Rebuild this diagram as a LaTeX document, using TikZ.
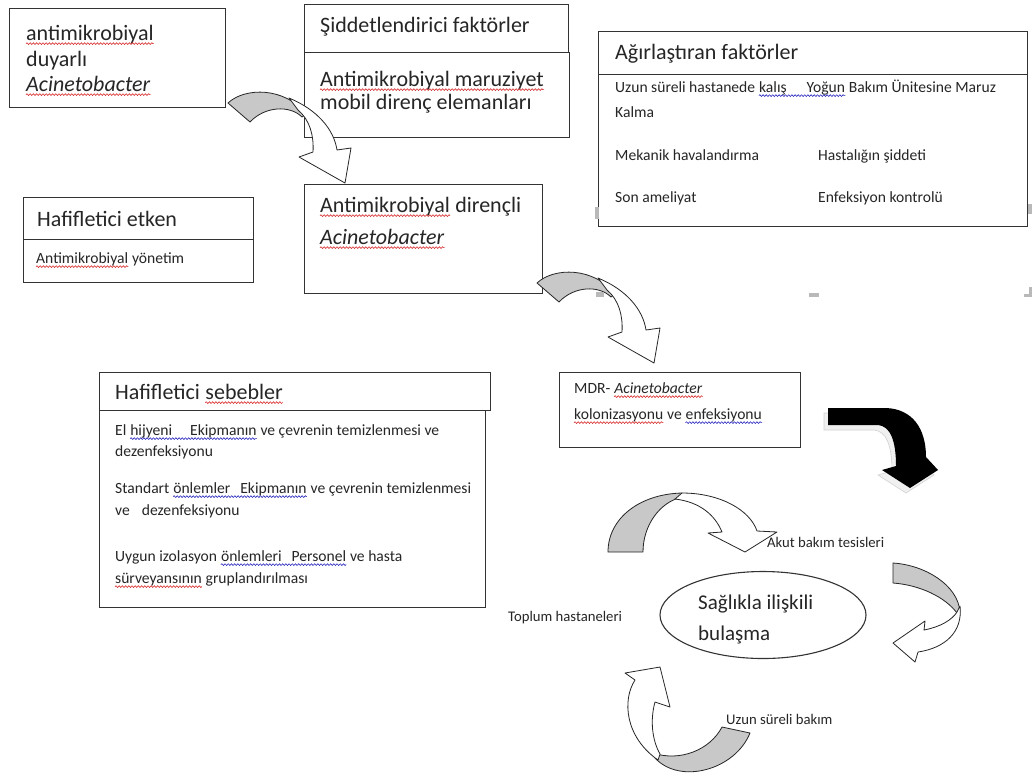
\documentclass[tikz,border=0pt]{standalone}
\usepackage{fontspec}
\setmainfont{Carlito}
\usetikzlibrary{decorations.pathmorphing,shapes.geometric}
\definecolor{arrgray}{RGB}{200,200,200}
\definecolor{wred}{RGB}{215,40,40}
\definecolor{wblue}{RGB}{40,40,190}
\tikzset{
  carrow/.pic={
    \path[garrow] (228,103) .. controls (245,87) and (285,87) .. (306,114) -- (302,117) .. controls (290,105) and (265,106) .. (250,122) -- cycle;
    \path[warrow] (289,98) .. controls (318,110) and (334,130) .. (337,150) -- (351,148) -- (345,183) -- (299,157) -- (313,152) .. controls (314,136) and (310,120) .. (298,110) -- cycle;
  }
}
\newcommand\wavy[2]{\draw[wv,#1] ([yshift=-3.6pt]#2.base west) -- ([yshift=-3.6pt]#2.base east);}
\begin{document}
\begin{tikzpicture}[x=1pt,y=-1pt,
  box/.style={draw=black!80,line width=1.1pt,anchor=north west,inner sep=0pt},
  big/.style={anchor=base west,inner sep=0pt,font=\fontsize{22}{26}\selectfont,text=black!85},
  small/.style={anchor=base west,inner sep=0pt,font=\fontsize{15.6}{19}\selectfont,text=black!85},
  lab/.style={anchor=base west,inner sep=0pt,font=\fontsize{14.7}{18}\selectfont,text=black!85},
  garrow/.style={fill=arrgray,draw=black!85,line width=0.8pt,line join=round},
  warrow/.style={fill=white,draw=black!85,line width=0.8pt,line join=round},
  wv/.style={line width=0.6pt,decorate,decoration={snake,segment length=3.2pt,amplitude=0.9pt}},
  handle/.style={fill=gray!55}]
\useasboundingbox[fill=white] (0,0) rectangle (1032,780);

% boxes
\node[box,minimum width=216pt,minimum height=99pt] (boxA) at (9,8) {};
\node[box,minimum width=264pt,minimum height=48pt] (sidH) at (304,4) {};
\node[box,minimum width=265pt,minimum height=85pt] (sidB) at (304,52) {};
\node[box,minimum width=429pt,minimum height=43pt] (agrH) at (598,31) {};
\node[box,minimum width=429pt,minimum height=152pt] (agrB) at (598,74) {};
\node[box,minimum width=230pt,minimum height=42pt] (hafEH) at (23,197) {};
\node[box,minimum width=230pt,minimum height=43pt] (hafEB) at (23,239) {};
\node[box,minimum width=238pt,minimum height=109pt] (amd) at (304,184) {};
\node[box,minimum width=391pt,minimum height=38pt] (hafSH) at (99,372) {};
\node[box,minimum width=386pt,minimum height=197pt] (hafSB) at (99,410) {};
\node[box,minimum width=241pt,minimum height=75pt] (mdr) at (559,372) {};
\node[draw=black!80,line width=1.1pt,ellipse,minimum width=206pt,minimum height=87pt,inner sep=0pt] (ell) at (763,615) {};

% texts
\node[big] (tA1) at (26,40) {antimikrobiyal};
\node[big] (tA2) at (26,66) {duyarlı};
\node[big] (tA3) at (26,91) {\textit{Acinetobacter}};
\node[big] (tS1) at (320,32) {Şiddetlendirici faktörler};
\node[big] (tS2) at (320,86) {Antimikrobiyal maruziyet};
\node[big] (tS3) at (320,109) {mobil direnç elemanları};
\node[big] (tG0) at (615,59) {Ağırlaştıran faktörler};
\node[small] (tG1a) at (615,92) {Uzun süreli hastanede};
\node[small,at={([xshift=3.5pt]tG1a.base east)}] (tG1b) {kalış\hspace{20pt}Yoğun};
\node[small,at={([xshift=3.5pt]tG1b.base east)}] (tG1c) {Bakım Ünitesine Maruz};
\node[small] (tG2) at (615,117) {Kalma};
\node[small] (tG3) at (615,160) {Mekanik havalandırma};
\node[small] (tG4) at (818,160) {Hastalığın şiddeti};
\node[small] (tG5) at (615,202) {Son ameliyat};
\node[small] (tG6) at (818,202) {Enfeksiyon kontrolü};
\node[big] (tE1) at (37,226) {Hafifletici etken};
\node[small] (tE2a) at (36,263) {Antimikrobiyal};
\node[small,at={([xshift=3.5pt]tE2a.base east)}] (tE2b) {yönetim};
\node[big] (tD1a) at (320,212) {Antimikrobiyal};
\node[big,at={([xshift=5pt]tD1a.base east)}] (tD1b) {dirençli};
\node[big] (tD2) at (320,244) {\textit{Acinetobacter}};
\node[big] (tH0a) at (115,399) {Hafifletici};
\node[big,at={([xshift=5pt]tH0a.base east)}] (tH0b) {sebebler};
\node[small] (tH1a) at (115,435) {El};
\node[small,at={([xshift=3.5pt]tH1a.base east)}] (tH1b) {hijyeni\hspace{18pt}Ekipmanın};
\node[small,at={([xshift=3.5pt]tH1b.base east)}] (tH1c) {ve çevrenin temizlenmesi ve};
\node[small] (tH2) at (115,456) {dezenfeksiyonu};
\node[small] (tH3a) at (115,493) {Standart};
\node[small,at={([xshift=3.5pt]tH3a.base east)}] (tH3b) {önlemler\hspace{10pt}Ekipmanın};
\node[small,at={([xshift=3.5pt]tH3b.base east)}] (tH3c) {ve çevrenin temizlenmesi};
\node[small] (tH4) at (115,515) {ve\hspace{12pt}dezenfeksiyonu};
\node[small] (tH5a) at (115,561) {Uygun izolasyon};
\node[small,at={([xshift=3.5pt]tH5a.base east)}] (tH5b) {önlemleri\hspace{10pt}Personel};
\node[small,at={([xshift=3.5pt]tH5b.base east)}] (tH5c) {ve hasta};
\node[small] (tH6a) at (115,583) {sürveyansının};
\node[small,at={([xshift=3.5pt]tH6a.base east)}] (tH6b) {gruplandırılması};
\node[small] (tM1a) at (574,393) {MDR-};
\node[small,at={([xshift=3.5pt]tM1a.base east)}] (tM1b) {\textit{Acinetobacter}};
\node[small] (tM2a) at (574,419) {kolonizasyonu};
\node[small,at={([xshift=3.5pt]tM2a.base east)}] (tM2b) {ve};
\node[small,at={([xshift=3.5pt]tM2b.base east)}] (tM2c) {enfeksiyonu};
\node[big,font=\fontsize{21}{25}\selectfont] (tL1) at (698,609) {Sağlıkla ilişkili};
\node[big,font=\fontsize{21}{25}\selectfont] (tL2) at (698,640) {bulaşma};
\node[lab] (lAkut) at (767,547) {Akut bakım tesisleri};
\node[lab] (lTop) at (508,621) {Toplum hastaneleri};
\node[lab] (lUzun) at (726,724) {Uzun süreli bakım};

% spell-check waves
\wavy{wred}{tA1}
\wavy{wred}{tA3}
\wavy{wred}{tS2}
\wavy{wblue}{tG1b}
\wavy{wred}{tE2a}
\wavy{wred}{tD1a}
\wavy{wred}{tD2}
\wavy{wred}{tH0b}
\wavy{wblue}{tH1b}
\wavy{wblue}{tH3b}
\wavy{wblue}{tH5b}
\wavy{wred}{tH6a}
\wavy{wred}{tM1b}
\wavy{wred}{tM2a}
\wavy{wblue}{tM2c}

% curved 3D arrows
\pic at (0,0) {carrow};
\pic at (309,180) {carrow};

% black arrow with shadow
\path[fill=gray!12,draw=gray!35,line width=0.6pt,shift={(-4,5)}]
  (828,408) -- (886,408) .. controls (912,409) and (926,428) .. (926,457) -- (938,470) -- (910,488) -- (882,470) -- (896,466) .. controls (896,440) and (890,426) .. (878,425) -- (828,425) -- cycle;
\path[fill=black]
  (828,408) -- (886,408) .. controls (912,409) and (926,428) .. (926,457) -- (938,470) -- (910,488) -- (882,470) -- (896,466) .. controls (896,440) and (890,426) .. (878,425) -- (828,425) -- cycle;

% cycle arrows
\path[garrow] (608,552) .. controls (608,518) and (640,494) .. (682,493) -- (682,497) .. controls (660,502) and (643,525) .. (643,552) -- cycle;
\path[warrow] (682,493) .. controls (720,493) and (750,510) .. (757,531) -- (777,532) -- (745,552) -- (708,533) -- (722,532) .. controls (715,515) and (700,502) .. (675,499) -- cycle;

\path[garrow] (893,563) .. controls (925,565) and (958,585) .. (960,612) -- (957,613) .. controls (945,597) and (920,585) .. (893,583) -- cycle;
\path[warrow] (960,606) .. controls (963,632) and (945,648) .. (918,652) -- (915,662) -- (893,643) -- (925,621) -- (924,630) .. controls (940,627) and (952,620) .. (957,612) -- cycle;

\path[garrow] (722,727) -- (750,733) .. controls (735,770) and (680,785) .. (655,758) -- (653,753) .. controls (680,762) and (710,750) .. (722,727) -- cycle;
\path[warrow] (658,760) .. controls (625,737) and (622,700) .. (635,680) -- (625,673) -- (660,667) -- (670,707) -- (655,702) .. controls (650,720) and (652,740) .. (660,754) -- cycle;

% small handle marks
\path[handle] (595,207) rectangle (599,219);
\path[handle] (1028,204) rectangle (1032,214);
\path[handle] (596,292) rectangle (604,297);
\path[handle] (809,293) rectangle (819,297);
\path[handle] (1024,294) rectangle (1032,297);
\path[handle] (1029,287) rectangle (1032,297);
\end{tikzpicture}
\end{document}
